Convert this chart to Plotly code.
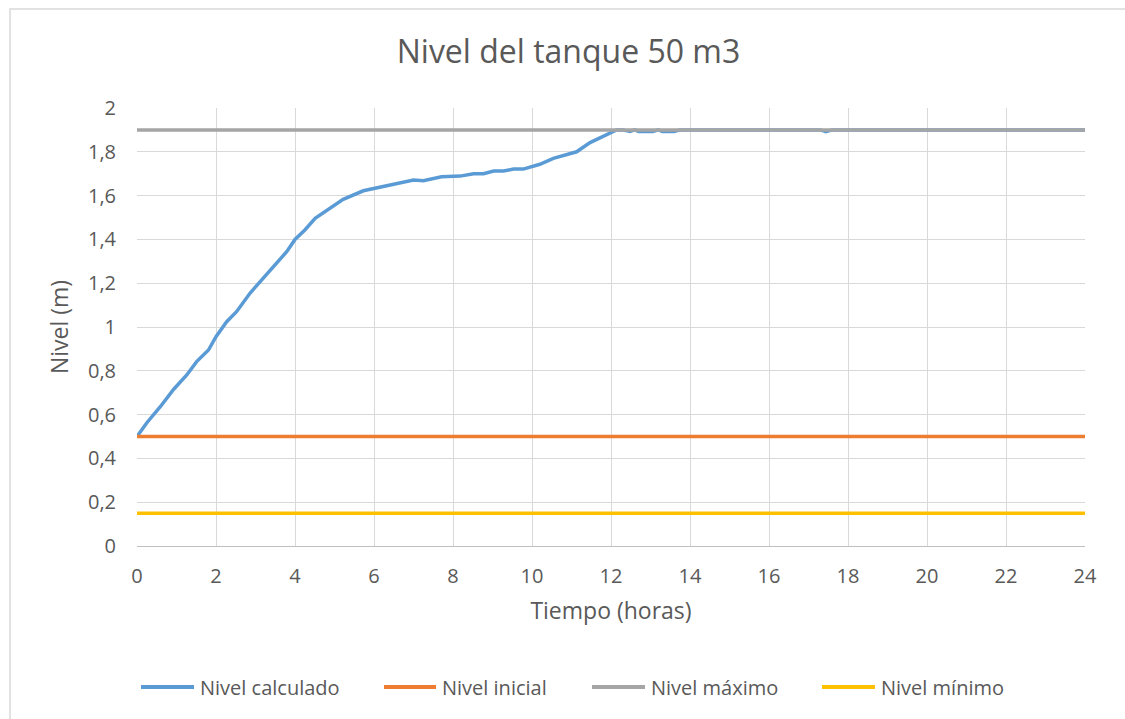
import plotly.graph_objects as go

# Hours and calculated tank level (m)
tiempo = [0, 0.25, 0.59, 0.93, 1.26, 1.51, 1.81, 2.0, 2.27, 2.52, 2.86, 3.2, 3.54, 3.79,
          4.0, 4.25, 4.51, 4.89, 5.22, 5.73, 6.03, 6.58, 7.0, 7.25, 7.71, 8.18, 8.52,
          8.77, 9.03, 9.28, 9.53, 9.78, 10.2, 10.54, 10.88, 11.13, 11.47, 11.8, 12.14,
          12.3, 12.48, 12.6, 12.7, 12.9, 13.06, 13.2, 13.3, 13.45, 13.6, 13.75, 14.0,
          17.3, 17.44, 17.6, 24.0]
nivel_calculado = [0.5, 0.563, 0.636, 0.716, 0.781, 0.842, 0.895, 0.956, 1.024, 1.07,
                   1.154, 1.222, 1.294, 1.344, 1.4, 1.443, 1.496, 1.542, 1.583, 1.622,
                   1.633, 1.656, 1.671, 1.668, 1.686, 1.689, 1.7, 1.7, 1.712, 1.712,
                   1.721, 1.721, 1.743, 1.77, 1.788, 1.8, 1.842, 1.869, 1.9,
                   1.9, 1.893, 1.9, 1.893, 1.893, 1.893, 1.9, 1.893, 1.893, 1.893, 1.9, 1.9,
                   1.9, 1.892, 1.9, 1.9]

# Reference levels (m) over the full day
limites_t = [0, 24]
nivel_inicial = [0.5, 0.5]
nivel_maximo = [1.9, 1.9]
nivel_minimo = [0.15, 0.15]

x_ticks = list(range(0, 25, 2))
y_ticks = [0, 0.2, 0.4, 0.6, 0.8, 1.0, 1.2, 1.4, 1.6, 1.8, 2.0]

series = [
    ("Nivel calculado", tiempo, nivel_calculado, "#5B9BD5"),
    ("Nivel inicial", limites_t, nivel_inicial, "#ED7D31"),
    ("Nivel máximo", limites_t, nivel_maximo, "#A5A5A5"),
    ("Nivel mínimo", limites_t, nivel_minimo, "#FFC000"),
]

FONT = "Open Sans"
TXT = "#595959"
W, H = 1125, 719
L, R, T, B = 137, 40, 108, 173
PW, PH = W - L - R, H - T - B


def px_x(p):
    return (p - L) / PW


def px_y(p):
    return (H - B - p) / PH


fig = go.Figure()
for name, xs, ys, color in series:
    fig.add_trace(go.Scatter(x=xs, y=ys, mode="lines", name=name,
                             line=dict(color=color, width=3.5), showlegend=False))

fig.update_layout(
    width=W, height=H,
    margin=dict(l=L, r=R, t=T, b=B),
    paper_bgcolor="white", plot_bgcolor="white",
    separators=", ",
    font=dict(family=FONT, color=TXT, size=20),
    title=dict(text="Nivel del tanque 50 m3", x=568.5 / W, xanchor="center",
               y=1 - 52 / H, yanchor="middle",
               font=dict(family=FONT, size=32, color=TXT)),
    xaxis=dict(range=[0, 24], tickvals=x_ticks, showgrid=True, gridcolor="#D9D9D9",
               gridwidth=1, zeroline=False, showline=True, linecolor="#BFBFBF",
               linewidth=1, ticks="", ticklabelstandoff=12,
               tickfont=dict(size=20, color=TXT),
               title=dict(text="Tiempo (horas)", font=dict(size=23, color=TXT), standoff=14)),
    yaxis=dict(range=[0, 2], tickvals=y_ticks, showgrid=True, gridcolor="#D9D9D9",
               gridwidth=1, zeroline=False, showline=False, ticks="",
               ticklabelstandoff=20, tickfont=dict(size=20, color=TXT),
               title=dict(text="Nivel (m)", font=dict(size=23, color=TXT), standoff=12)),
    showlegend=False,
)

# Legend below the plot: line sample followed by the series name
leg_y = px_y(687)
leg_pos = [(141, 194), (384, 436), (592, 645), (822, 875)]
for (name, _, _, color), (a, b) in zip(series, leg_pos):
    fig.add_shape(type="line", xref="paper", yref="paper",
                  x0=px_x(a), x1=px_x(b), y0=leg_y, y1=leg_y,
                  line=dict(color=color, width=4))
    fig.add_annotation(text=name, xref="paper", yref="paper", x=px_x(b + 4), y=leg_y,
                       xanchor="left", yanchor="middle", showarrow=False,
                       font=dict(family=FONT, size=20, color=TXT))

# Chart frame
fig.add_shape(type="rect", xref="paper", yref="paper",
              x0=px_x(10), x1=px_x(1140), y0=px_y(735), y1=px_y(9),
              line=dict(color="#D9D9D9", width=1.5), layer="below")

fig.write_html("out.html")
